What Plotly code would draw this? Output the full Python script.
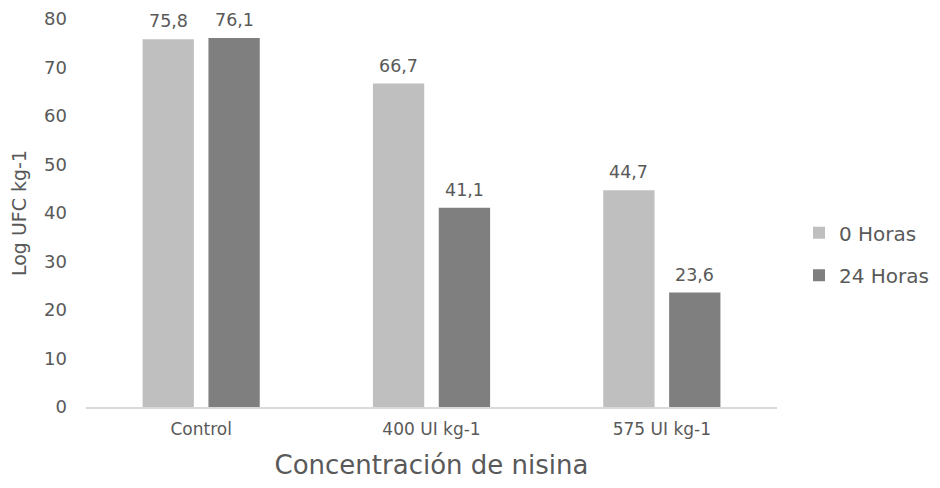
import plotly.graph_objects as go

categories = ["Control", "400 UI kg-1", "575 UI kg-1"]
series_names = ["0 Horas", "24 Horas"]
values_0h = [75.8, 66.7, 44.7]
values_24h = [76.1, 41.1, 23.6]
colors = ["#bfbfbf", "#7f7f7f"]
y_ticks = [0, 10, 20, 30, 40, 50, 60, 70, 80]

def fmt(v):
    return f"{v:.1f}".replace(".", ",")

FONT = "DejaVu Sans, Open Sans, sans-serif"
GRAY = "#595959"
# page body has an 8px margin, so the figure is sized to fit the 940x488 window
W, H = 932, 480
BARGAP, BARGROUPGAP = 0.428, 0.221

fig = go.Figure()
legends = ["legend", "legend2"]
all_series = [values_0h, values_24h]
for name, vals, col, lg in zip(series_names, all_series, colors, legends):
    fig.add_trace(go.Bar(
        x=categories, y=vals, name=name, marker_color=col, marker_line_width=0,
        legend=lg,
    ))

# value labels above each bar, centred on the bar's slot within its group
slot = (1 - BARGAP) / len(all_series)
for si, vals in enumerate(all_series):
    off = (si - (len(all_series) - 1) / 2) * slot
    for ci, v in enumerate(vals):
        fig.add_annotation(
            x=ci + off, y=v, xref="x", yref="y", text=fmt(v), showarrow=False,
            yanchor="bottom", yshift=6,
            font=dict(size=17.5, color=GRAY, family=FONT),
        )

leg_common = dict(xref="container", yref="container", xanchor="left", yanchor="middle",
                  font=dict(size=20, color=GRAY, family=FONT), bgcolor="rgba(0,0,0,0)",
                  itemwidth=30)
fig.update_layout(
    width=W, height=H,
    plot_bgcolor="white", paper_bgcolor="white",
    font=dict(family=FONT, color=GRAY, size=17),
    barmode="group", bargap=BARGAP, bargroupgap=BARGROUPGAP,
    margin=dict(l=78, r=163, t=11, b=81, pad=0),
    showlegend=True,
    legend=dict(x=791 / W, y=1 - 224.7 / H, **leg_common),
    legend2=dict(x=791 / W, y=1 - 267.3 / H, **leg_common),
    xaxis=dict(
        title=dict(text="Concentración de nisina", font=dict(size=26, color=GRAY, family=FONT), standoff=18),
        showline=True, linecolor="#d9d9d9", linewidth=1.5, ticks="",
        tickfont=dict(size=17, color=GRAY, family=FONT), ticklabelstandoff=6,
        automargin=False,
    ),
    yaxis=dict(
        title=dict(text="Log UFC kg-1", font=dict(size=19, color=GRAY, family=FONT), standoff=14),
        range=[0, 80], tickvals=y_ticks, showgrid=False, zeroline=False,
        tickfont=dict(size=18, color=GRAY, family=FONT), ticks="",
        ticklabelstandoff=18, automargin=False,
    ),
)
fig.write_html("out.html")
